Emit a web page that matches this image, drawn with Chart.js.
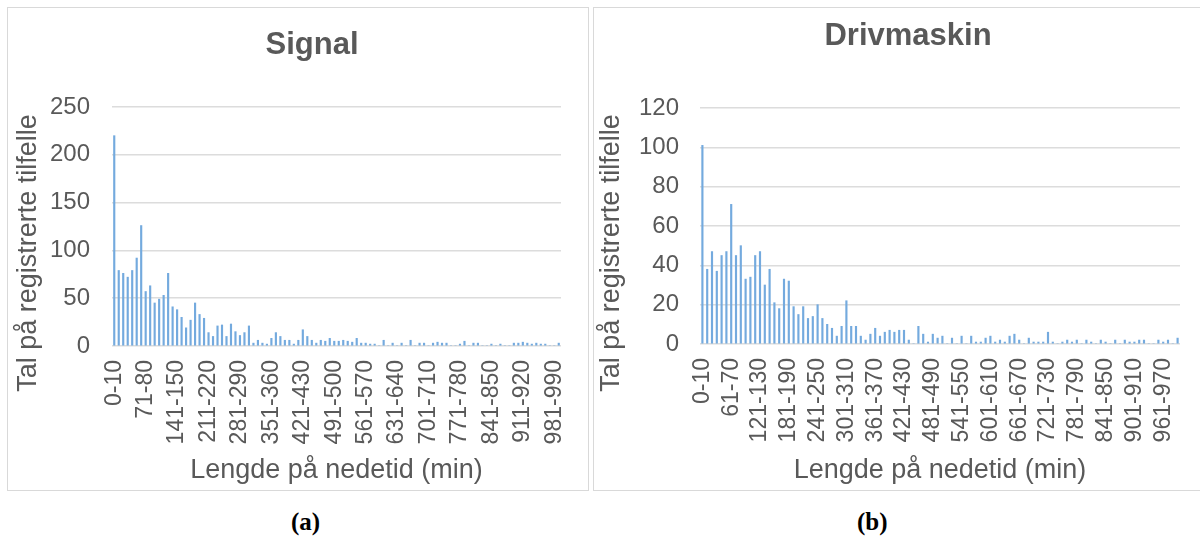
<!DOCTYPE html>
<html>
<head>
<meta charset="utf-8">
<script src="https://cdn.jsdelivr.net/npm/chart.js@4/dist/chart.umd.min.js"></script>
<style>
    body { margin: 0; background: #fff; width: 1200px; height: 542px; overflow: hidden; position: relative; }
    .panel { position: absolute; border: 1px solid #d9d9d9; background: #fff; }
    .cap { position: absolute; top: 508px; font: bold 25px "Liberation Serif", serif; color: #000; }
</style>
</head>
<body>

<div class="panel" style="left:7px; top:7px; width:580px; height:482px;">
    <canvas id="signal" width="580" height="482"></canvas>
</div>
<div class="panel" style="left:593px; top:7px; width:620px; height:482px;">
    <canvas id="driv" width="620" height="482"></canvas>
</div>
<div class="cap" style="left:291px;">(a)</div>
<div class="cap" style="left:857px;">(b)</div>

<script>
const categories = [
    "0-10", "11-20", "21-30", "31-40", "41-50", "51-60", "61-70", "71-80", "81-90", "91-100",
    "101-110", "111-120", "121-130", "131-140", "141-150", "151-160", "161-170", "171-180", "181-190", "191-200",
    "201-210", "211-220", "221-230", "231-240", "241-250", "251-260", "261-270", "271-280", "281-290", "291-300",
    "301-310", "311-320", "321-330", "331-340", "341-350", "351-360", "361-370", "371-380", "381-390", "391-400",
    "401-410", "411-420", "421-430", "431-440", "441-450", "451-460", "461-470", "471-480", "481-490", "491-500",
    "501-510", "511-520", "521-530", "531-540", "541-550", "551-560", "561-570", "571-580", "581-590", "591-600",
    "601-610", "611-620", "621-630", "631-640", "641-650", "651-660", "661-670", "671-680", "681-690", "691-700",
    "701-710", "711-720", "721-730", "731-740", "741-750", "751-760", "761-770", "771-780", "781-790", "791-800",
    "801-810", "811-820", "821-830", "831-840", "841-850", "851-860", "861-870", "871-880", "881-890", "891-900",
    "901-910", "911-920", "921-930", "931-940", "941-950", "951-960", "961-970", "971-980", "981-990", "991-1000"
];

const signalValues = [
    220, 79, 76, 72, 79, 92, 126, 57, 63, 45,
    49, 53, 76, 41, 38, 30, 19, 27, 45, 33,
    29, 14, 10, 21, 22, 10, 23, 15, 11, 14,
    21, 3, 6, 3, 2, 8, 14, 10, 6, 6,
    2, 6, 17, 10, 6, 3, 6, 5, 8, 5,
    5, 6, 5, 4, 8, 3, 3, 2, 2, 0,
    6, 0, 3, 0, 3, 0, 6, 0, 3, 3,
    0, 3, 4, 3, 3, 0, 0, 2, 5, 0,
    3, 3, 0, 0, 2, 0, 2, 0, 0, 3,
    3, 4, 3, 2, 3, 2, 2, 0, 0, 3
];

const drivValues = [
    101, 38, 47, 37, 45, 47, 71, 45, 50, 33,
    34, 45, 47, 30, 38, 21, 18, 33, 32, 19,
    15, 19, 13, 14, 20, 13, 10, 8, 4, 9,
    22, 9, 9, 4, 2, 5, 8, 4, 6, 7,
    6, 7, 7, 2, 0, 9, 5, 1, 5, 3,
    4, 0, 3, 0, 4, 0, 4, 1, 1, 3,
    4, 1, 2, 1, 4, 5, 2, 0, 3, 1,
    1, 1, 6, 1, 0, 1, 2, 1, 2, 0,
    2, 1, 0, 2, 1, 0, 2, 0, 2, 1,
    1, 2, 2, 0, 0, 2, 1, 2, 0, 3
];

// labels Excel shows on the category axis
const signalTicks = ["0-10", "71-80", "141-150", "211-220", "281-290", "351-360", "421-430", "491-500",
    "561-570", "631-640", "701-710", "771-780", "841-850", "911-920", "981-990"];
const drivTicks = ["0-10", "61-70", "121-130", "181-190", "241-250", "301-310", "361-370", "421-430",
    "481-490", "541-550", "601-610", "661-670", "721-730", "781-790", "841-850", "901-910", "961-970"];

const signalY = [0, 50, 100, 150, 200, 250];
const drivY = [0, 20, 40, 60, 80, 100, 120];

const FONT = '"Liberation Sans", Arial, sans-serif';
const GREY = '#595959';

// chart title and value-axis title, placed where Excel put them
const panelText = {
    id: 'panelText',
    afterDraw(chart, args, opts) {
        const ctx = chart.ctx;
        ctx.save();
        ctx.fillStyle = GREY;
        ctx.textAlign = 'center';
        ctx.font = 'bold 31px ' + FONT;
        ctx.textBaseline = 'alphabetic';
        ctx.fillText(opts.title, opts.titleX, opts.titleY);

        ctx.translate(opts.yTitleX, opts.yTitleY);
        ctx.rotate(-Math.PI / 2);
        ctx.font = '27px ' + FONT;
        ctx.textBaseline = 'middle';
        ctx.fillText(opts.yTitle, 0, 0);
        ctx.restore();
    }
};

function makeChart(id, title, values, shownTicks, yTicks, lay) {
    const yMax = yTicks[yTicks.length - 1];
    return new Chart(document.getElementById(id), {
        type: 'bar',
        data: {
            labels: categories,
            datasets: [{
                data: values,
                backgroundColor: '#74aade',
                barThickness: 1.5
            }]
        },
        plugins: [panelText],
        options: {
            responsive: false,
            animation: false,
            devicePixelRatio: 1,
            layout: { padding: { left: 0, top: lay.top, right: lay.right, bottom: 0 } },
            plugins: {
                legend: { display: false },
                tooltip: { enabled: false },
                panelText: {
                    title: title, titleX: lay.titleX, titleY: lay.titleY,
                    yTitle: 'Tal på registrerte tilfelle', yTitleX: lay.yTitleX, yTitleY: 245
                }
            },
            scales: {
                x: {
                    grid: { display: false, drawTicks: false },
                    border: { display: false },
                    ticks: {
                        autoSkip: false,
                        minRotation: 90,
                        maxRotation: 90,
                        padding: 14,
                        color: GREY,
                        font: { family: FONT, size: 23 },
                        callback: function (v, i) {
                            return shownTicks.includes(categories[i]) ? categories[i] : '';
                        }
                    },
                    title: {
                        display: true,
                        text: 'Lengde på nedetid (min)',
                        color: GREY,
                        font: { family: FONT, size: 27 },
                        padding: { top: 0, bottom: 3 }
                    },
                    afterFit: function (s) {
                        s.height = lay.xHeight;
                        s.paddingLeft = 0;
                        s.paddingRight = 0;
                    }
                },
                y: {
                    min: 0,
                    max: yMax,
                    border: { display: false },
                    grid: { color: '#dcdcdc', lineWidth: 1.6, drawTicks: false },
                    afterBuildTicks: function (s) { s.ticks = yTicks.map(v => ({ value: v })); },
                    ticks: {
                        padding: lay.yTickPad,
                        color: GREY,
                        font: { family: FONT, size: 24 }
                    },
                    afterFit: function (s) { s.width = lay.yWidth; }
                }
            }
        }
    });
}

makeChart('signal', 'Signal', signalValues, signalTicks, signalY, {
    top: 99, right: 27, xHeight: 144, yWidth: 104,
    yTickPad: 22, yTitleX: 21,
    titleX: 304, titleY: 46
});

makeChart('driv', 'Drivmaskin', drivValues, drivTicks, drivY, {
    top: 100, right: 34, xHeight: 146, yWidth: 106,
    yTickPad: 21, yTitleX: 18,
    titleX: 314, titleY: 37
});
</script>
</body>
</html>
